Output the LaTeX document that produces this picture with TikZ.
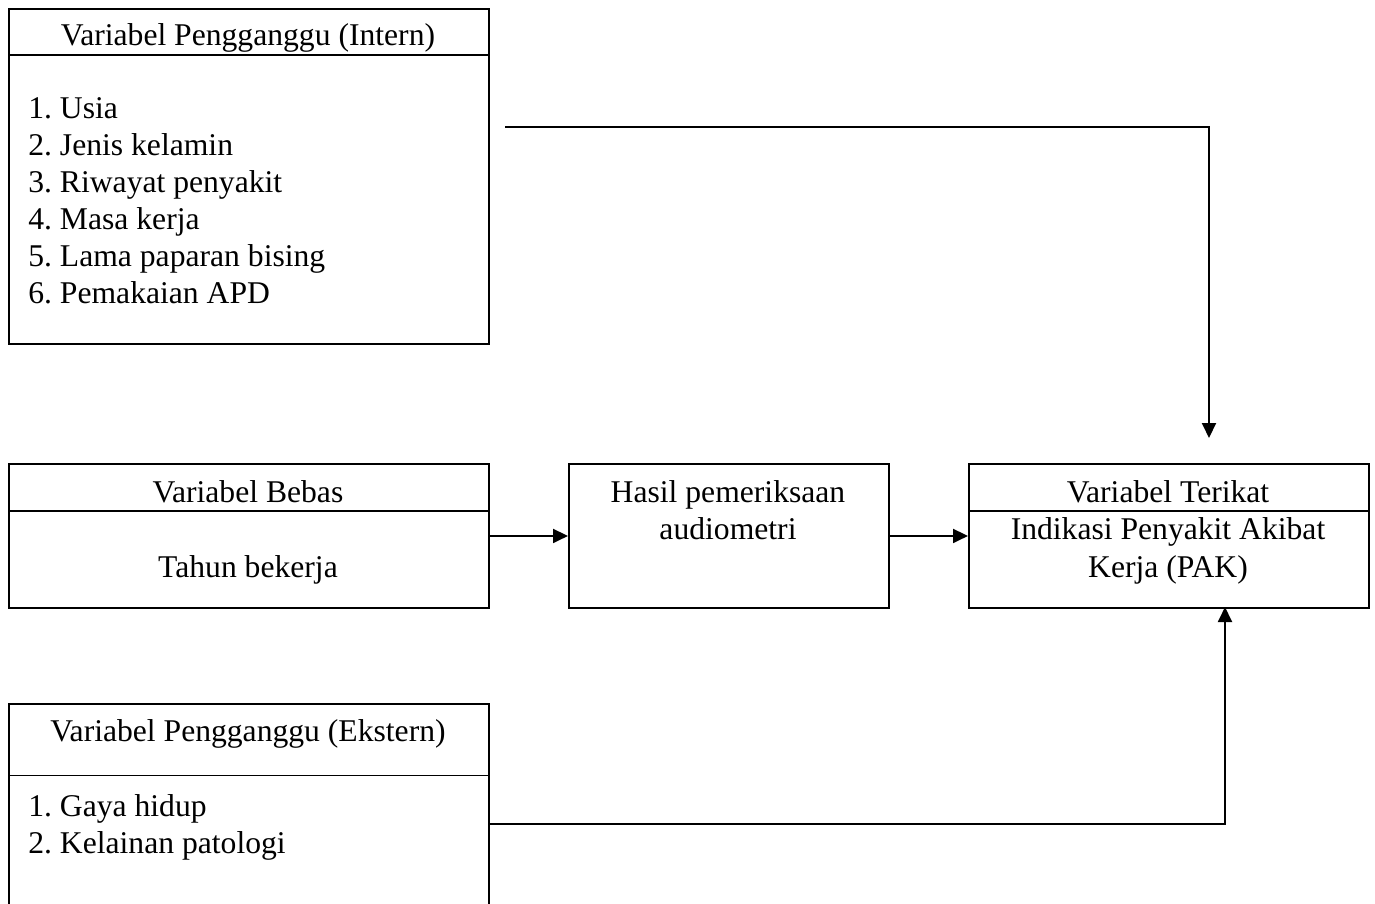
\documentclass[tikz,border=0pt]{standalone}
\usepackage{fontspec}
\setmainfont{Liberation Serif}
\usetikzlibrary{arrows.meta,calc}
\frenchspacing

\tikzset{
  box/.style={draw,line width=1.1pt,rectangle,anchor=north west,inner sep=0pt},
  lbl/.style={inner sep=0pt,anchor=base,font=\fontsize{18}{21}\selectfont},
  item/.style={lbl,anchor=base west},
  link/.style={line width=1.1pt},
  arr/.style={link,-{Triangle[length=0.3cm,width=0.28cm]}}
}

\begin{document}
\begin{tikzpicture}
\clip (0,0) rectangle (27.5,-18.06);
% boxes
\node[box,minimum width=9.6cm,minimum height=6.7cm] (intern) at (0.16,-0.16) {};
\node[box,minimum width=9.6cm,minimum height=2.88cm] (bebas) at (0.16,-9.26) {};
\node[box,minimum width=6.4cm,minimum height=2.88cm] (hasil) at (11.36,-9.26) {};
\node[box,minimum width=8cm,minimum height=2.88cm] (terikat) at (19.36,-9.26) {};
\node[box,minimum width=9.6cm,minimum height=5cm] (ekstern) at (0.16,-14.06) {};
% header lines
\draw[link] ($(intern.north west)+(0,-0.94)$) -- ($(intern.north east)+(0,-0.94)$);
\draw[link] ($(bebas.north west)+(0,-0.96)$) -- ($(bebas.north east)+(0,-0.96)$);
\draw[link] ($(terikat.north west)+(0,-0.96)$) -- ($(terikat.north east)+(0,-0.96)$);
\draw[link] ($(ekstern.north west)+(0,-1.45)$) -- ($(ekstern.north east)+(0,-1.45)$);
% texts
\node[lbl] (internT) at (4.96,-0.9) {Variabel Pengganggu (Intern)};
\foreach \t [count=\i] in {Usia,Jenis kelamin,Riwayat penyakit,Masa kerja,Lama paparan bising,Pemakaian APD}
  \node[item] (in\i) at (0.56,{-2.37-0.74*(\i-1)}) {\i. \t};
\node[lbl] (bebasT) at (4.96,-10.05) {Variabel Bebas};
\node[lbl] (bebasX) at (4.96,-11.55) {Tahun bekerja};
\node[lbl] (hasilA) at (14.56,-10.05) {Hasil pemeriksaan};
\node[lbl] (hasilB) at (14.56,-10.79) {audiometri};
\node[lbl] (terikatT) at (23.36,-10.05) {Variabel Terikat};
\node[lbl] (terikatA) at (23.36,-10.79) {Indikasi Penyakit Akibat};
\node[lbl] (terikatB) at (23.36,-11.55) {Kerja (PAK)};
\node[lbl] (eksternT) at (4.96,-14.83) {Variabel Pengganggu (Ekstern)};
\foreach \t [count=\i] in {Gaya hidup,Kelainan patologi}
  \node[item] (ek\i) at (0.56,{-16.33-0.74*(\i-1)}) {\i. \t};
% connectors
\coordinate (inStart) at (10.1,-2.54);
\coordinate (inTip) at (24.18,-8.76);
\draw[arr] (inStart) -| (inTip);
\draw[arr] (bebas.east) -- (hasil.west);
\draw[arr] (hasil.east) -- (terikat.west);
\coordinate (ekStart) at ($(ekstern.north east)+(0,-2.42)$);
\coordinate (pakIn) at (24.5,-12.14);
\draw[arr] (ekStart) -| (pakIn);
\end{tikzpicture}
\end{document}
